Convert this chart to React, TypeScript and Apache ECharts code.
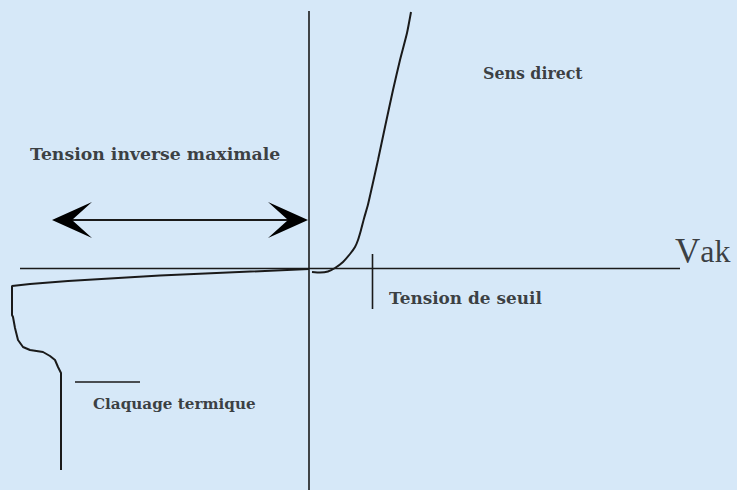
import React, { useEffect, useRef } from "react";
import * as echarts from "echarts";

// Schematic units: x = Vak (arbitrary units, origin at axes crossing), y = I (arbitrary units)
const xAxisLine: number[][] = [[-289, 0], [371, 0]];
const yAxisLine: number[][] = [[0, 257.5], [0, -221.5]];

// forward (direct) characteristic
const forwardCurve: number[][] = [
  [3, -3.5], [11, -4], [19, -3], [26, 0.5], [34, 6.5], [41, 14.5], [46, 21.5],
  [49, 28.5], [52, 38.5], [55, 50], [59, 64], [63, 81.5], [69, 108.5],
  [76, 141.5], [84, 178.5], [91, 208.5], [98, 235.5], [102, 256.5],
];

// reverse characteristic with breakdown
const reverseCurve: number[][] = [
  [0, -0.5], [-149, -7], [-241, -12.5], [-279, -15.5], [-297, -17.5],
  [-297, -46.5], [-296, -48.5], [-294, -59.5], [-291, -71.5], [-286, -78.5],
  [-279, -81.5], [-266, -83.5], [-259, -87.5], [-254, -91.5], [-251, -98.5],
  [-248, -104.5], [-248, -201.5],
];

const thresholdTick: number[][] = [[63.5, 14.5], [63.5, -40.5]];
const breakdownMark: number[][] = [[-234, -113.5], [-169, -113.5]];
const maxReverseArrow: number[][] = [[-257, -1, 48.5]];

const labelNames: string[] = [
  "Tension inverse maximale",
  "Sens direct",
  "Tension de seuil",
  "Claquage termique",
];
const labelPositions: number[][] = [
  [-279, 114.5],
  [174, 195.5],
  [80, -29.5],
  [-216, -135.5],
];
const labelFontSizes: number[] = [17.3, 15.8, 16.9, 15.2];
const axisLabelPos: number[] = [366, 0];

const LINE = "#1a1a1a";

function lineSeries(data: number[][], width: number, smooth = 0) {
  return {
    type: "line",
    data,
    symbol: "none",
    silent: true,
    smooth,
    lineStyle: { color: LINE, width },
  };
}

export default function App() {
  const ref = useRef<HTMLDivElement>(null);
  useEffect(() => {
    document.body.style.margin = "0";
    const chart = echarts.init(ref.current!, null, { renderer: "svg" });
    chart.setOption({
      animation: false,
      backgroundColor: "#d6e8f8",
      grid: { left: 0, right: 0, top: 0, bottom: 0 },
      xAxis: { type: "value", min: -309, max: 428, show: false },
      yAxis: { type: "value", min: -221.5, max: 268.5, show: false },
      series: [
        lineSeries(xAxisLine, 1.6),
        lineSeries(yAxisLine, 1.6),
        lineSeries(thresholdTick, 1.6),
        lineSeries(breakdownMark, 1.6),
        lineSeries(forwardCurve, 2, 0.2),
        lineSeries(reverseCurve, 2),
        {
          type: "custom",
          silent: true,
          data: maxReverseArrow,
          renderItem: (_params: any, api: any) => {
            const x1 = api.value(0);
            const x2 = api.value(1);
            const y = api.value(2);
            const a = api.coord([x1, y]);
            const b = api.coord([x2, y]);
            const len = 40;
            const hw = 18;
            const notch = 20;
            return {
              type: "group",
              children: [
                {
                  type: "line",
                  shape: { x1: a[0] + notch, y1: a[1], x2: b[0] - notch, y2: b[1] },
                  style: { stroke: LINE, lineWidth: 2 },
                },
                {
                  type: "polygon",
                  shape: {
                    points: [
                      [a[0], a[1]],
                      [a[0] + len, a[1] - hw],
                      [a[0] + notch, a[1]],
                      [a[0] + len, a[1] + hw],
                    ],
                  },
                  style: { fill: "#000" },
                },
                {
                  type: "polygon",
                  shape: {
                    points: [
                      [b[0], b[1]],
                      [b[0] - len, b[1] - hw],
                      [b[0] - notch, b[1]],
                      [b[0] - len, b[1] + hw],
                    ],
                  },
                  style: { fill: "#000" },
                },
              ],
            };
          },
        },
        {
          type: "scatter",
          silent: true,
          symbolSize: 0,
          data: labelNames.map((n, i) => ({
            name: n,
            value: labelPositions[i],
            label: { fontSize: labelFontSizes[i] },
          })),
          label: {
            show: true,
            position: [0, 0],
            align: "left",
            verticalAlign: "middle",
            formatter: (p: any) => p.name,
            fontFamily: "DejaVu Serif",
            fontWeight: "bold",
            color: "#111",
          },
        },
        {
          type: "scatter",
          silent: true,
          symbolSize: 0,
          data: [{ name: "Vak", value: axisLabelPos }],
          label: {
            show: true,
            position: [0, 0],
            align: "left",
            verticalAlign: "bottom",
            formatter: "{v|V}{s|ak}",
            rich: {
              v: { fontFamily: "Liberation Serif", fontSize: 35, color: "#111" },
              s: { fontFamily: "Liberation Serif", fontSize: 32, color: "#111" },
            },
          },
        },
      ],
    });
    return () => chart.dispose();
  }, []);
  return <div ref={ref} style={{ width: 737, height: 490 }} />;
}
